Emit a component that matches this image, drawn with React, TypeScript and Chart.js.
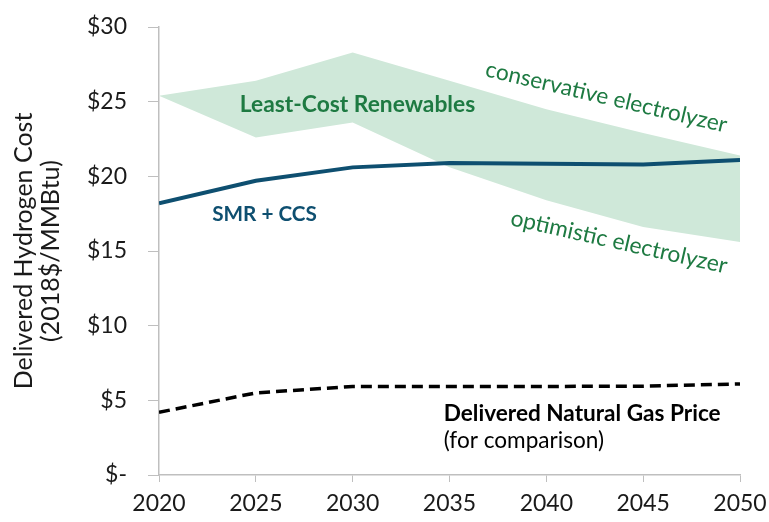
import React, { useEffect, useRef } from "react";
import { Chart, registerables } from "chart.js";

Chart.register(...registerables);

const years = [2020, 2025, 2030, 2035, 2040, 2045, 2050];
const conservativeElectrolyzer = [25.4, 26.4, 28.3, 26.4, 24.5, 22.9, 21.4];
const optimisticElectrolyzer = [25.4, 22.6, 23.6, 20.6, 18.4, 16.6, 15.6];
const smrCcs = [18.2, 19.7, 20.6, 20.9, 20.85, 20.8, 21.1];
const naturalGas = [4.2, 5.5, 5.93, 5.93, 5.93, 5.95, 6.1];

const yTicks = [0, 5, 10, 15, 20, 25, 30];
const yTitle = ["Delivered Hydrogen Cost", "(2018$/MMBtu)"];

const GREEN = "#1e7a42";
const BLUE = "#0e4f70";
const FONT = "Lato, 'Open Sans', sans-serif";

// text annotations, anchored in data coordinates
const annotations = [
  { text: "Least-Cost Renewables", x: 2030.25, y: 24.8, color: GREEN, bold: true, size: 22.8, angle: 0 },
  { text: "conservative electrolyzer", x: 2043.1, y: 25.3, color: GREEN, bold: false, size: 22.6, angle: 13.2 },
  { text: "optimistic electrolyzer", x: 2043.75, y: 15.6, color: GREEN, bold: false, size: 22.8, angle: 12.7 },
  { text: "SMR + CCS", x: 2025.45, y: 17.45, color: BLUE, bold: true, size: 20.7, angle: 0 },
  { text: "Delivered Natural Gas Price", x: 2034.7, y: 4.13, color: "#000000", bold: true, size: 22.6, angle: 0, align: "left" as CanvasTextAlign },
  { text: "(for comparison)", x: 2034.7, y: 2.33, color: "#000000", bold: false, size: 22.6, angle: 0, align: "left" as CanvasTextAlign },
];

const textPlugin = {
  id: "textAnnotations",
  afterDatasetsDraw(chart: any) {
    const { ctx, scales } = chart;
    const xs = scales.x;
    const ys = scales.y;
    annotations.forEach((a: any) => {
      const px = xs.getPixelForValue(a.x);
      const py = ys.getPixelForValue(a.y);
      ctx.save();
      ctx.translate(px, py);
      ctx.rotate((a.angle * Math.PI) / 180);
      ctx.font = `${a.bold ? "bold " : ""}${a.size}px ${FONT}`;
      ctx.fillStyle = a.color;
      ctx.textAlign = a.align || "center";
      ctx.textBaseline = "middle";
      ctx.fillText(a.text, 0, 0);
      ctx.restore();
    });
  },
};

export default function App() {
  const ref = useRef<HTMLCanvasElement>(null);

  useEffect(() => {
    if (!ref.current) return;
    const toXY = (arr: number[]) => arr.map((v, i) => ({ x: years[i], y: v }));
    const chart = new Chart(ref.current, {
      type: "line",
      data: {
        datasets: [
          {
            label: "SMR + CCS",
            data: toXY(smrCcs),
            borderColor: BLUE,
            borderWidth: 4,
            pointRadius: 0,
            fill: false,
            tension: 0,
          },
          {
            label: "Delivered Natural Gas Price",
            data: toXY(naturalGas),
            borderColor: "#000000",
            borderWidth: 3.5,
            borderDash: [11, 6],
            pointRadius: 0,
            fill: false,
          },
          {
            label: "conservative electrolyzer",
            data: toXY(conservativeElectrolyzer),
            borderWidth: 0,
            borderColor: "rgba(0,0,0,0)",
            backgroundColor: "#cfe8d9",
            pointRadius: 0,
            fill: "+1",
          },
          {
            label: "optimistic electrolyzer",
            data: toXY(optimisticElectrolyzer),
            borderWidth: 0,
            borderColor: "rgba(0,0,0,0)",
            backgroundColor: "#cfe8d9",
            pointRadius: 0,
            fill: false,
          },
        ],
      },
      options: {
        animation: false,
        responsive: true,
        maintainAspectRatio: false,
        layout: { padding: { top: 27, right: 29, left: 0, bottom: 0 } },
        plugins: {
          legend: { display: false },
          tooltip: { enabled: false },
        },
        scales: {
          x: {
            type: "linear",
            min: 2020,
            max: 2050,
            afterBuildTicks: (scale: any) => {
              scale.ticks = years.map((v) => ({ value: v }));
            },
            afterFit: (scale: any) => {
              scale.height = 47;
              scale.paddingLeft = 0;
              scale.paddingRight = 0;
            },
            ticks: {
              callback: (v: any) => String(v),
              font: { family: FONT, size: 23 },
              color: "#1a1a1a",
              padding: 8,
              maxRotation: 0,
            },
            grid: {
              drawOnChartArea: false,
              drawTicks: true,
              tickLength: 7,
              color: "#bfbfbf",
            },
            border: { display: true, color: "#bfbfbf", width: 1.5 },
          },
          y: {
            min: 0,
            max: 30,
            afterBuildTicks: (scale: any) => {
              scale.ticks = yTicks.map((v) => ({ value: v }));
            },
            afterFit: (scale: any) => {
              scale.width = 159;
              scale.paddingTop = 0;
              scale.paddingBottom = 0;
            },
            ticks: {
              callback: (v: any) => (v === 0 ? "$-" : "$" + v),
              font: { family: FONT, size: 23 },
              color: "#1a1a1a",
              padding: 21,
            },
            grid: {
              drawOnChartArea: false,
              drawTicks: true,
              tickLength: 11,
              color: "#bfbfbf",
            },
            border: { display: true, color: "#bfbfbf", width: 1.5 },
            title: {
              display: true,
              text: yTitle,
              font: { family: FONT, size: 25, lineHeight: 1.08 },
              color: "#1a1a1a",
              padding: { top: 10, bottom: 0 },
            },
          },
        },
      },
      plugins: [textPlugin],
    });
    return () => chart.destroy();
  }, []);

  return (
    <div style={{ position: "fixed", left: 0, top: 0, width: 769, height: 522, background: "#fff" }}>
      <canvas ref={ref} />
    </div>
  );
}
